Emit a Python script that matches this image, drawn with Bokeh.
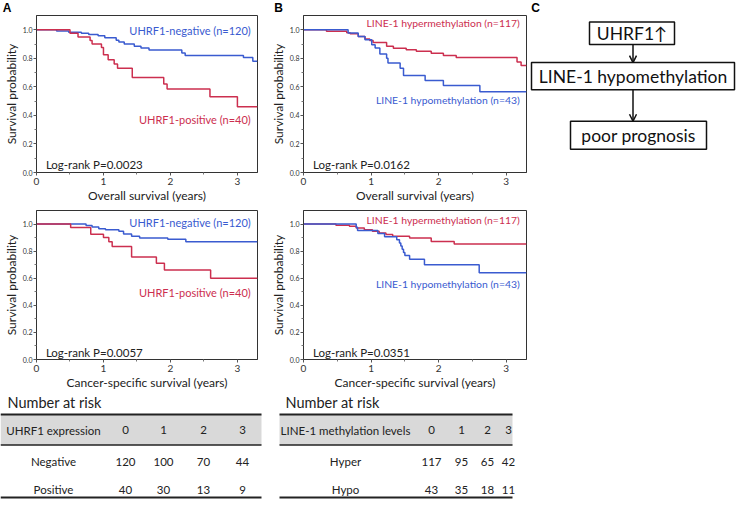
from bokeh.plotting import figure
from bokeh.layouts import column, row
from bokeh.models import (Range1d, FixedTicker, Label, Arrow, OpenHead, Spacer,
                          PrintfTickFormatter)
from bokeh.core.properties import value
from bokeh.embed import file_html
from bokeh.resources import INLINE

# ---------------- data ----------------
followup_end = 3.3

# A: overall survival, UHRF1
a_os_neg_t = [0, 0.30, 0.48, 0.67, 0.78, 0.92, 1.02, 1.19, 1.23, 1.31, 1.46, 1.56, 1.68, 2.17, 2.22, 3.09, 3.23]
a_os_neg_s = [1.0, 0.992, 0.983, 0.975, 0.967, 0.958, 0.944, 0.927, 0.915, 0.90, 0.885, 0.873, 0.858, 0.838, 0.82, 0.805, 0.78]
a_os_pos_t = [0, 0.50, 0.62, 0.80, 0.83, 0.97, 1.00, 1.07, 1.16, 1.21, 1.43, 1.90, 1.95, 2.59, 3.00]
a_os_pos_s = [1.0, 0.975, 0.95, 0.925, 0.90, 0.875, 0.825, 0.79, 0.76, 0.73, 0.665, 0.62, 0.585, 0.53, 0.46]

# A: cancer-specific survival, UHRF1
a_css_neg_t = [0, 0.74, 0.83, 0.93, 1.03, 1.23, 1.30, 1.42, 1.54, 1.96, 2.23]
a_css_neg_s = [1.0, 0.99, 0.978, 0.966, 0.958, 0.946, 0.926, 0.91, 0.897, 0.888, 0.87]
a_css_pos_t = [0, 0.51, 0.81, 1.00, 1.08, 1.13, 1.42, 1.79, 1.91, 2.60]
a_css_pos_s = [1.0, 0.975, 0.925, 0.90, 0.87, 0.835, 0.757, 0.71, 0.66, 0.60]

# B: overall survival, LINE-1
b_os_hyper_t = [0, 0.34, 0.64, 0.69, 0.81, 0.91, 0.98, 1.03, 1.23, 1.33, 1.52, 1.67, 1.89, 2.07, 2.26, 3.16, 3.22]
b_os_hyper_s = [1.0, 0.99, 0.98, 0.972, 0.953, 0.935, 0.925, 0.91, 0.885, 0.87, 0.86, 0.85, 0.835, 0.82, 0.805, 0.775, 0.75]
b_os_hypo_t = [0, 0.66, 0.81, 0.91, 1.01, 1.06, 1.13, 1.23, 1.25, 1.43, 1.48, 1.80, 2.07, 2.61]
b_os_hypo_s = [1.0, 0.977, 0.953, 0.93, 0.895, 0.872, 0.83, 0.80, 0.768, 0.73, 0.68, 0.645, 0.61, 0.565]

# B: cancer-specific survival, LINE-1
b_css_hyper_t = [0, 0.48, 0.68, 0.78, 0.90, 1.02, 1.12, 1.22, 1.32, 1.57, 1.89, 2.23]
b_css_hyper_s = [1.0, 0.992, 0.983, 0.97, 0.958, 0.946, 0.934, 0.922, 0.91, 0.897, 0.872, 0.852]
b_css_hypo_t = [0, 0.78, 0.80, 1.10, 1.20, 1.38, 1.42, 1.44, 1.46, 1.48, 1.50, 1.57, 1.79, 2.60]
b_css_hypo_s = [1.0, 0.977, 0.953, 0.93, 0.907, 0.884, 0.86, 0.837, 0.814, 0.79, 0.767, 0.74, 0.70, 0.64]

p_values = ["Log-rank P=0.0023", "Log-rank P=0.0057", "Log-rank P=0.0162", "Log-rank P=0.0351"]

risk_years = ["0", "1", "2", "3"]
uhrf1_groups = ["Negative", "Positive"]
uhrf1_risk = [[120, 100, 70, 44], [40, 30, 13, 9]]
line1_groups = ["Hyper", "Hypo"]
line1_risk = [[117, 95, 65, 42], [43, 35, 18, 11]]

flow_steps = ["UHRF1\u2191", "LINE-1 hypomethylation", "poor prognosis"]
panel_letters = ["A", "B", "C"]

# ---------------- style ----------------
FONT = "Lato"
BLUE = "#3a5bd0"
RED = "#cc2f4f"
TXT = "#222222"


def km_fig(width, height, left, top, right, xlabel, curves, labels, label_size, pval, pval_y):
    p = figure(width=width, height=height, x_range=Range1d(0, followup_end),
               y_range=Range1d(0, 1.1), output_backend="svg", toolbar_location=None,
               min_border_left=left, min_border_right=right, min_border_top=top,
               min_border_bottom=10)
    p.grid.visible = False
    p.outline_line_color = "#333333"
    p.outline_line_width = 1
    p.xaxis.ticker = FixedTicker(ticks=[0, 1, 2, 3], minor_ticks=[0.5, 1.5, 2.5])
    p.yaxis.ticker = FixedTicker(ticks=[0, 0.2, 0.4, 0.6, 0.8, 1.0],
                                 minor_ticks=[0.1, 0.3, 0.5, 0.7, 0.9])
    p.yaxis.formatter = PrintfTickFormatter(format="%.1f")
    for ax in p.axis:
        ax.axis_line_color = "#333333"
        ax.major_tick_line_color = "#555555"
        ax.minor_tick_line_color = "#777777"
        ax.major_tick_in = 0
        ax.major_tick_out = 3
        ax.minor_tick_in = 0
        ax.minor_tick_out = 2
        ax.major_label_text_font = FONT
        ax.major_label_text_color = "#333333"
        ax.axis_label_text_font = FONT
        ax.axis_label_text_font_style = "normal"
        ax.axis_label_text_color = TXT
        ax.axis_label_text_font_size = "12px"
    p.xaxis.major_label_text_font_size = "10px"
    p.xaxis.major_label_standoff = 2
    p.xaxis.axis_label_standoff = 0
    p.yaxis.major_label_text_font_size = "7px"
    p.yaxis.major_label_standoff = 1
    p.yaxis.axis_label_standoff = 1
    p.xaxis.axis_label = xlabel
    p.yaxis.axis_label = "Survival probability"

    for (t, s, col) in curves:
        p.step(x=t + [followup_end], y=s + [s[-1]], mode="after",
               line_color=col, line_width=1.5)
    for (txt, y, col) in labels:
        p.add_layout(Label(x=3.2, y=y, text=txt, text_align="right", text_baseline="middle",
                           text_font=FONT, text_font_size=label_size, text_color=col))
    p.add_layout(Label(x=0.14, y=pval_y, text=pval, text_align="left", text_baseline="middle",
                       text_font=FONT, text_font_size="11.5px", text_color=TXT))
    return p


# ---------------- panel letters strip ----------------
strip = figure(width=736, height=15, x_range=Range1d(0, 736), y_range=Range1d(15, 0),
               output_backend="svg", toolbar_location=None, min_border=0,
               x_axis_location=None, y_axis_location=None)
strip.grid.visible = False
strip.outline_line_color = None
strip.text(x=[6.5, 278, 535], y=[7.5, 7.5, 7.5], text=panel_letters,
           text_font=value("Liberation Sans"), text_font_style="bold",
           text_font_size="12px", text_align="center", text_baseline="middle",
           text_color="black")

a1 = km_fig(262, 190, 34, 0, 5, "Overall survival (years)",
            [(a_os_neg_t, a_os_neg_s, BLUE), (a_os_pos_t, a_os_pos_s, RED)],
            [("UHRF1-negative (n=120)", 0.996, BLUE), ("UHRF1-positive (n=40)", 0.372, RED)],
            "11px", p_values[0], 0.059)
b1 = km_fig(266, 190, 41, 0, 2, "Overall survival (years)",
            [(b_os_hyper_t, b_os_hyper_s, RED), (b_os_hypo_t, b_os_hypo_s, BLUE)],
            [("LINE-1 hypermethylation (n=117)", 1.05, RED),
             ("LINE-1 hypomethylation (n=43)", 0.505, BLUE)],
            "10.4px", p_values[2], 0.059)
a2 = km_fig(262, 187, 34, 5, 5, "Cancer-specific survival (years)",
            [(a_css_neg_t, a_css_neg_s, BLUE), (a_css_pos_t, a_css_pos_s, RED)],
            [("UHRF1-negative (n=120)", 1.01, BLUE), ("UHRF1-positive (n=40)", 0.494, RED)],
            "11px", p_values[1], 0.052)
b2 = km_fig(266, 187, 41, 5, 2, "Cancer-specific survival (years)",
            [(b_css_hyper_t, b_css_hyper_s, RED), (b_css_hypo_t, b_css_hypo_s, BLUE)],
            [("LINE-1 hypermethylation (n=117)", 1.03, RED),
             ("LINE-1 hypomethylation (n=43)", 0.56, BLUE)],
            "10.4px", p_values[3], 0.052)

# ---------------- panel C: flow diagram ----------------
c = figure(width=208, height=190, x_range=Range1d(528, 736), y_range=Range1d(205, 15),
           output_backend="svg", toolbar_location=None, min_border=0,
           x_axis_location=None, y_axis_location=None)
c.grid.visible = False
c.outline_line_color = None
box_left = [589, 531, 570]
box_right = [674, 734, 706]
box_top = [23, 72, 143]
box_bottom = [50, 105, 177]
arrow_x = 632.5
c.quad(left=box_left, right=box_right, top=box_top, bottom=box_bottom,
       fill_color="white", line_color="#111111", line_width=1.5)
c.text(x=[(l + r) / 2 for l, r in zip(box_left, box_right)],
       y=[(t + b) / 2 + 0.5 for t, b in zip(box_top, box_bottom)],
       text=flow_steps, text_font=value(FONT), text_font_size="17.5px",
       text_align="center", text_baseline="middle", text_color="#111111")
for i in range(2):
    c.add_layout(Arrow(end=OpenHead(size=7, line_width=1.5, line_color="#111111"),
                       x_start=arrow_x, y_start=box_bottom[i], x_end=arrow_x,
                       y_end=box_top[i + 1], line_width=1.5, line_color="#111111"))

# ---------------- number at risk tables ----------------
t = figure(width=736, height=107, x_range=Range1d(0, 736), y_range=Range1d(499, 392),
           output_backend="svg", toolbar_location=None, min_border=0,
           x_axis_location=None, y_axis_location=None)
t.grid.visible = False
t.outline_line_color = None

tables = [
    dict(x0=0, x1=261, title_x=7, name="UHRF1 expression", name_x=53,
         cols=[125, 163, 203, 242], groups=uhrf1_groups, risk=uhrf1_risk),
    dict(x0=279, x1=512, title_x=285, name="LINE-1 methylation levels", name_x=345,
         cols=[431, 461, 487, 508], groups=line1_groups, risk=line1_risk),
]
title_y, rule_top, rule_mid, rule_bot = 402, 414, 444.5, 497
header_y = 429.5
row_y = [461, 489]
for tb in tables:
    t.text(x=[tb["title_x"]], y=[title_y], text=["Number at risk"], text_font=value(FONT),
           text_font_size="14.5px", text_align="left", text_baseline="middle", text_color=TXT)
    t.quad(left=[tb["x0"]], right=[tb["x1"]], top=[rule_top], bottom=[rule_mid],
           fill_color="#d9d9d9", line_color=None)
    t.segment(x0=[tb["x0"]] * 3, x1=[tb["x1"]] * 3, y0=[rule_top, rule_mid, rule_bot],
              y1=[rule_top, rule_mid, rule_bot], line_color="#222222", line_width=[2, 1.5, 2])
    t.text(x=[tb["name_x"]], y=[header_y], text=[tb["name"]], text_font=value(FONT),
           text_font_size="11.5px", text_align="center", text_baseline="middle", text_color=TXT)
    t.text(x=tb["cols"], y=[header_y] * 4, text=risk_years, text_font=value(FONT),
           text_font_size="11.5px", text_align="center", text_baseline="middle", text_color=TXT)
    for gi, g in enumerate(tb["groups"]):
        t.text(x=[tb["name_x"]], y=[row_y[gi]], text=[g], text_font=value(FONT),
               text_font_size="11.5px", text_align="center", text_baseline="middle",
               text_color=TXT)
        t.text(x=tb["cols"], y=[row_y[gi]] * 4, text=[str(v) for v in tb["risk"][gi]],
               text_font=value(FONT), text_font_size="11.5px", text_align="center",
               text_baseline="middle", text_color=TXT)

layout = column(strip, row(a1, b1, c), row(a2, b2, Spacer(width=208, height=187)), t)

open("out.html", "w").write(file_html(layout, INLINE))
